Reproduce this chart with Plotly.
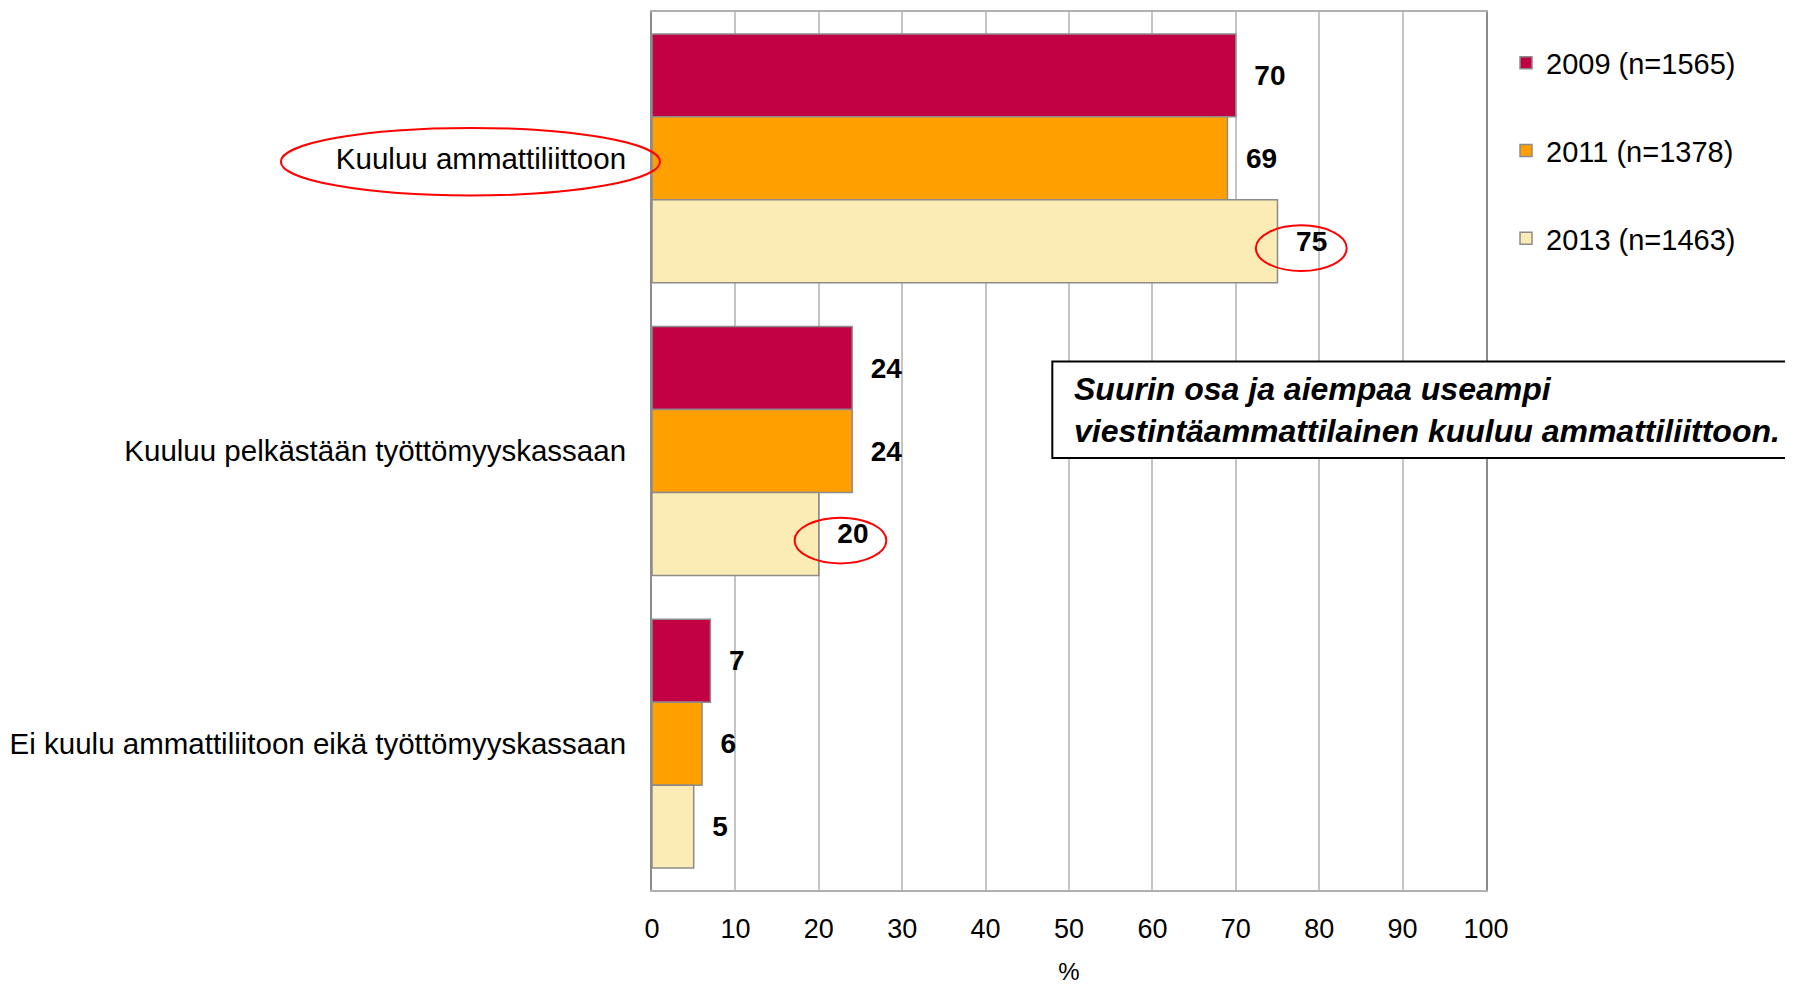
import plotly.graph_objects as go

categories = ["Kuuluu ammattiliittoon", "Kuuluu pelkästään työttömyyskassaan",
              "Ei kuulu ammattiliitoon eikä työttömyyskassaan"]
series_names = ["2009 (n=1565)", "2011 (n=1378)", "2013 (n=1463)"]
values_2009 = [70, 24, 7]
values_2011 = [69, 24, 6]
values_2013 = [75, 20, 5]
colors = ["#C20044", "#FFA000", "#FBEBB5"]
x_ticks = [0, 10, 20, 30, 40, 50, 60, 70, 80, 90, 100]

FONT = "Liberation Sans, Arial, sans-serif"

fig = go.Figure()
for name, vals, col in zip(series_names, [values_2009, values_2011, values_2013], colors):
    fig.add_trace(go.Bar(
        y=categories, x=vals, orientation="h", name=name,
        legendgroup=name,
        marker=dict(color=col, line=dict(color="#8c8c8c", width=1.5)),
        text=[f"\u00a0\u00a0{v}" for v in vals],
        textposition="outside", cliponaxis=False,
        textfont=dict(family=FONT, size=28, color="black", weight="bold"),
    ))

fig.update_layout(
    width=1793, height=987,
    margin=dict(l=644, r=315, t=2, b=105),
    barmode="group", bargap=0.15, bargroupgap=0,
    plot_bgcolor="white", paper_bgcolor="white",
    font=dict(family=FONT, size=29, color="black"),
    legend=dict(x=1.024, y=0.971, xanchor="left", yanchor="top",
                font=dict(size=29), tracegroupgap=47, bgcolor="rgba(0,0,0,0)"),
)
fig.update_xaxes(range=[0, 100], tickvals=x_ticks, showgrid=True, gridcolor="#c4c4c4",
                 gridwidth=1.5, showline=True, linecolor="#b0b0b0", linewidth=2, mirror=True,
                 zeroline=False, ticks="", ticklabelstandoff=14,
                 tickfont=dict(size=27),
                 title=dict(text="%", font=dict(size=24), standoff=20))
fig.update_yaxes(autorange="reversed", showline=True, linecolor="#8c8c8c", linewidth=2,
                 mirror=True, ticks="", ticklabelstandoff=18, tickfont=dict(size=29.5),
                 showgrid=False)

# annotation box
fig.add_shape(type="rect", xref="paper", yref="paper", x0=0.48, x1=1.5, y0=0.492, y1=0.602,
              line=dict(color="black", width=2), fillcolor="white", layer="above")
fig.add_annotation(xref="paper", yref="paper", x=0.503, y=0.547, xanchor="left", yanchor="middle",
                   align="left", showarrow=False,
                   text="<b><i>Suurin osa ja aiempaa useampi<br>viestintäammattilainen kuuluu ammattiliittoon.</i></b>",
                   font=dict(family=FONT, size=32, color="black"))

# red ellipses
ell = dict(type="circle", line=dict(color="#ff0000", width=2), layer="above")
fig.add_shape(xref="paper", yref="paper", x0=-0.445, x1=0.0096, y0=0.791, y1=0.868, **ell)
fig.add_shape(xref="x", yref="paper", x0=72.4, x1=83.3, y0=0.705, y1=0.757, **ell)
fig.add_shape(xref="x", yref="paper", x0=17.1, x1=28.1, y0=0.372, y1=0.424, **ell)

fig.write_html("out.html")
